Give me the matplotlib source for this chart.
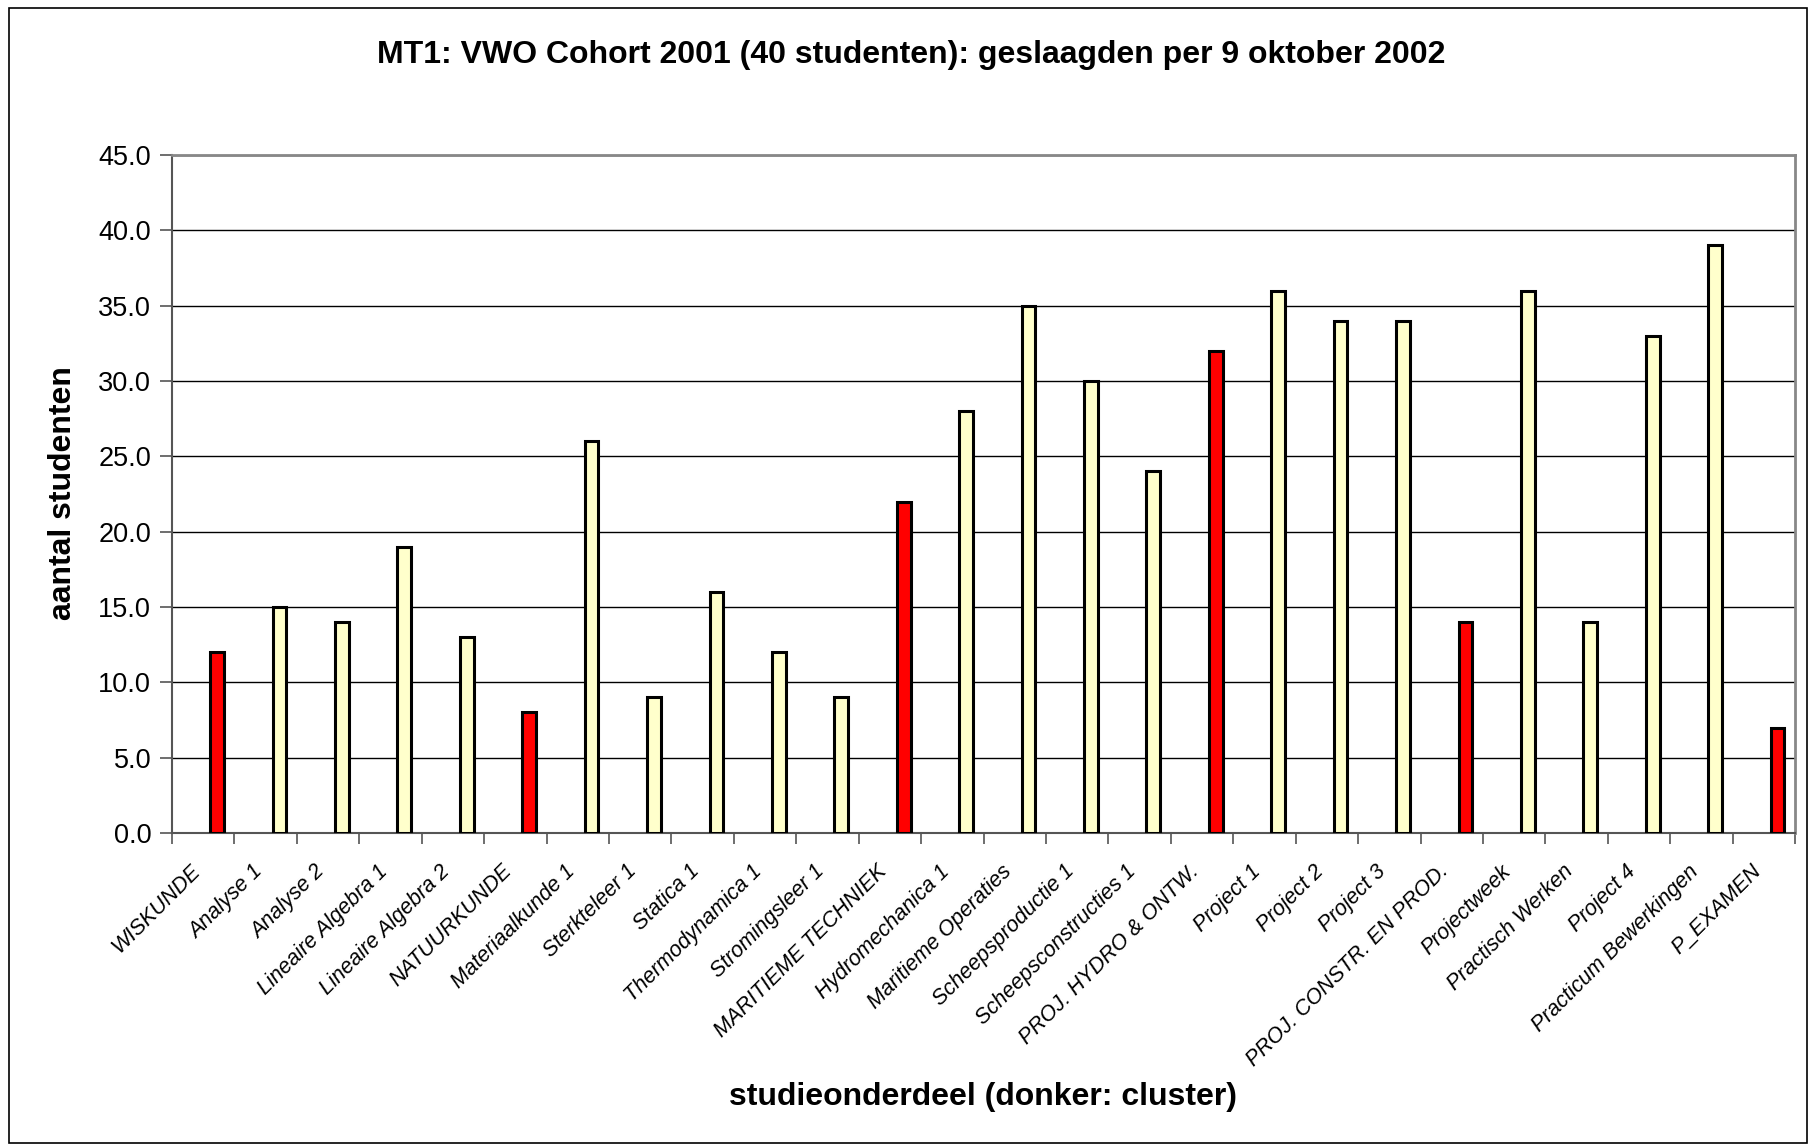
import matplotlib
matplotlib.use('Agg')
import matplotlib.pyplot as plt
from matplotlib.patches import Rectangle
import numpy as np

plt.rcParams['font.family'] = ['Liberation Sans', 'DejaVu Sans']

# data
onderdelen = ['WISKUNDE', 'Analyse 1', 'Analyse 2', 'Lineaire Algebra 1', 'Lineaire Algebra 2',
              'NATUURKUNDE', 'Materiaalkunde 1', 'Sterkteleer 1', 'Statica 1', 'Thermodynamica 1',
              'Stromingsleer 1', 'MARITIEME TECHNIEK', 'Hydromechanica 1', 'Maritieme Operaties',
              'Scheepsproductie 1', 'Scheepsconstructies 1', 'PROJ. HYDRO & ONTW.', 'Project 1',
              'Project 2', 'Project 3', 'PROJ. CONSTR. EN PROD.', 'Projectweek', 'Practisch Werken',
              'Project 4', 'Practicum Bewerkingen', 'P_EXAMEN']
geslaagd = [12, 15, 14, 19, 13, 8, 26, 9, 16, 12, 9, 22, 28, 35, 30, 24, 32, 36, 34, 34, 14, 36,
            14, 33, 39, 7]
cluster = [1, 0, 0, 0, 0, 1, 0, 0, 0, 0, 0, 1, 0, 0, 0, 0, 1, 0, 0, 0, 1, 0, 0, 0, 0, 1]

fig = plt.figure(figsize=(18.11, 11.46), dpi=100)
ax = fig.add_axes([0.095, 0.2731, 0.9912 - 0.095, 0.8647 - 0.2731])

x = np.arange(len(onderdelen))
kleuren = ['#ff0000' if c else '#ffffcc' for c in cluster]
ax.bar(x + 0.72, geslaagd, width=0.22, color=kleuren, edgecolor='black', linewidth=2.2, zorder=3)

ax.set_xlim(0, len(onderdelen))
ax.set_ylim(0, 45)
ax.set_yticks(np.arange(0, 46, 5))
ax.set_yticklabels([f'{v:.1f}' for v in np.arange(0, 46, 5)], fontsize=19.5)
ax.yaxis.grid(True, color='black', linewidth=1.0, zorder=0)

# ticks op de categoriegrenzen, labels iets links van het midden
ax.set_xticks(np.arange(0, len(onderdelen) + 1))
ax.set_xticklabels([])
ax.set_xticks(x + 0.28, minor=True)
ax.set_xticklabels(onderdelen, minor=True, rotation=45, ha='right', rotation_mode='anchor',
                   fontsize=15.5, fontstyle='italic')
ax.tick_params(axis='x', which='minor', length=0, pad=20)
ax.tick_params(axis='x', which='major', length=8, width=1.2, color='#555555', direction='out')
ax.tick_params(axis='y', length=9, width=1.2, color='#555555', pad=6)

for s in ['top', 'right']:
    ax.spines[s].set_color('#888888')
    ax.spines[s].set_linewidth(2)
for s in ['left', 'bottom']:
    ax.spines[s].set_color('#555555')
    ax.spines[s].set_linewidth(1.5)

fig.text(0.503, 0.952, 'MT1: VWO Cohort 2001 (40 studenten): geslaagden per 9 oktober 2002',
         ha='center', va='center', fontsize=23, fontweight='bold')
fig.text(0.543, 0.043, 'studieonderdeel (donker: cluster)', ha='center', va='center',
         fontsize=23, fontweight='bold')
fig.text(0.035, 0.57, 'aantal studenten', ha='center', va='center', rotation=90,
         fontsize=23, fontweight='bold')

# rand om de hele grafiek
fig.patches.append(Rectangle((0.005, 0.003), 0.993, 0.99, transform=fig.transFigure,
                             fill=False, edgecolor='black', linewidth=1.2))

fig.savefig('out.png', dpi=100)
